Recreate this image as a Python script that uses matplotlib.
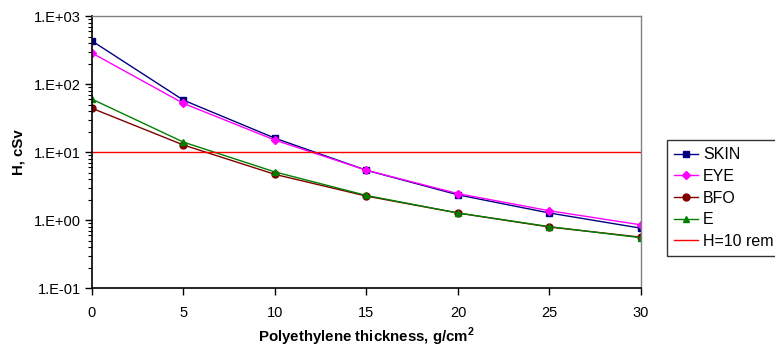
import numpy as np
import matplotlib.pyplot as plt
from matplotlib.ticker import FuncFormatter, LogLocator

plt.rcParams['font.family'] = ['Liberation Sans', 'DejaVu Sans']

# data
thickness = [0, 5, 10, 15, 20, 25, 30]
skin = [430, 58, 16, 5.4, 2.35, 1.27, 0.76]
eye = [286, 52, 15, 5.4, 2.45, 1.37, 0.85]
bfo = [44, 12.7, 4.7, 2.25, 1.27, 0.79, 0.56]
e_dose = [60, 14, 5.1, 2.3, 1.27, 0.80, 0.55]
limit = 10

fig = plt.figure(figsize=(7.75, 3.5), dpi=100)
ax = fig.add_axes([0.1187, 0.177, 0.7083, 0.777])

ax.plot(thickness, skin, '-s', color='#000080', lw=1, ms=5, label='SKIN')
ax.plot(thickness, eye, '-D', color='#FF00FF', lw=1, ms=4.5, label='EYE')
ax.plot(thickness, bfo, '-o', color='#800000', lw=1, ms=5, label='BFO')
ax.plot(thickness, e_dose, '-^', color='#008000', lw=1, ms=5, label='E')
ax.plot([thickness[0], thickness[-1]], [limit, limit], color='red', lw=1, label='H=10 rem')

ax.set_yscale('log')
ax.set_ylim(0.1, 1000)
ax.set_xlim(0, 30)
ax.set_xticks(range(0, 31, 5))
ax.yaxis.set_major_locator(LogLocator(base=10, numticks=10))
ax.yaxis.set_minor_locator(LogLocator(base=10, subs=np.arange(2, 10), numticks=10))
ax.yaxis.set_major_formatter(FuncFormatter(lambda v, p: f"1.E{int(round(np.log10(v))):+03d}"))

ax.tick_params(axis='both', which='major', direction='out', length=5, width=1,
               labelsize=10.5, colors='black', pad=3)
ax.tick_params(axis='y', which='minor', direction='out', length=3, width=0.8)
ax.tick_params(axis='x', pad=8)

for s in ['left', 'bottom']:
    ax.spines[s].set_color('black')
    ax.spines[s].set_linewidth(1.2)
for s in ['top', 'right']:
    ax.spines[s].set_color('#808080')
    ax.spines[s].set_linewidth(1)

ax.set_xlabel('Polyethylene thickness, g/cm$^\\mathregular{2}$', fontsize=10.8,
              fontweight='bold', labelpad=4)
ax.set_ylabel('H, cSv', fontsize=10.8, fontweight='bold', labelpad=6)

leg = fig.legend(loc='upper left', bbox_to_anchor=(667 / 775, 1 - 140 / 350),
                 frameon=True, fancybox=False, edgecolor='black', fontsize=11.5,
                 handlelength=1.5, handletextpad=0.3, borderpad=0.45,
                 labelspacing=0.42, borderaxespad=0)
leg.get_frame().set_linewidth(1)

fig.savefig('out.png', dpi=100)
